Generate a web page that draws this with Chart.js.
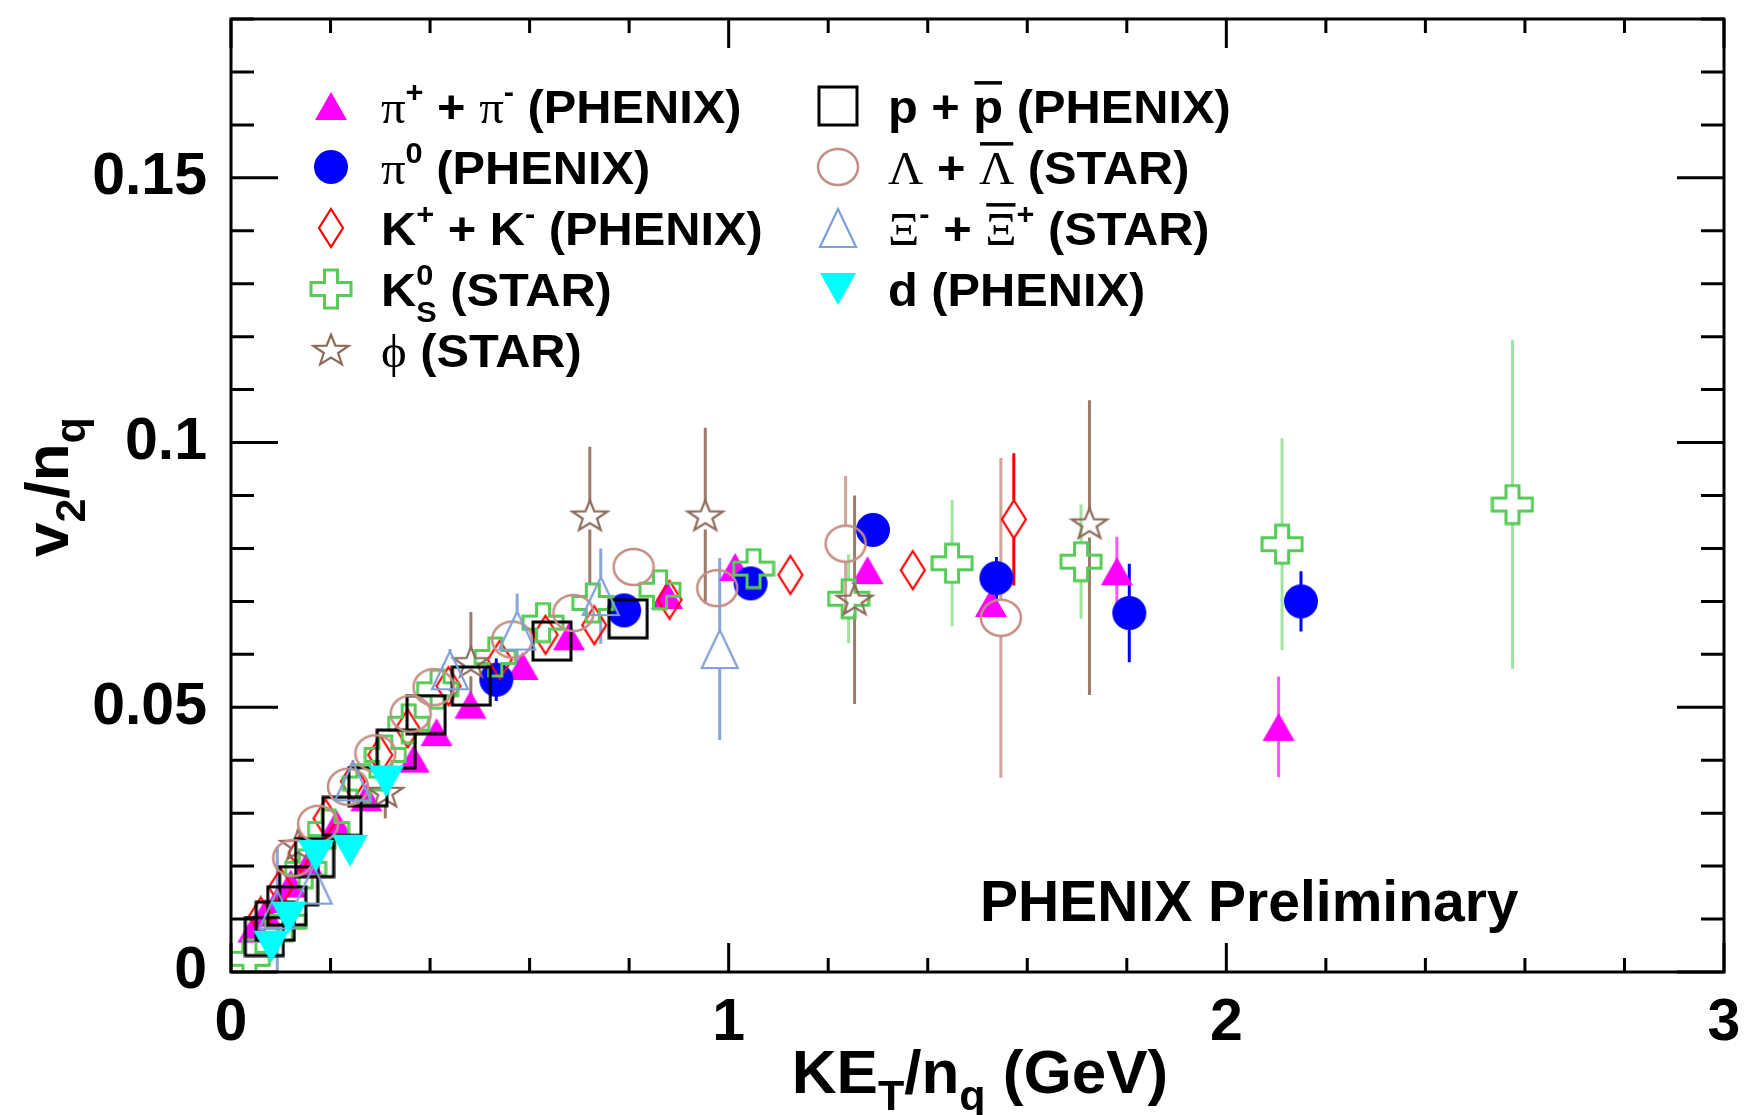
<!DOCTYPE html>
<html>
<head>
<meta charset="utf-8">
<title>v2/nq vs KET/nq</title>
<script src="https://cdn.jsdelivr.net/npm/chart.js@4.4.1/dist/chart.umd.min.js"></script>
<style>
  body { margin: 0; background: #fff; }
  .chart-box { width: 1746px; height: 1115px; }
</style>
</head>
<body>
<div class="chart-box"><canvas id="v2Chart"></canvas></div>
<script>
// --- Data: x = KE_T/n_q (GeV), y = v2/n_q ---
// pi+ + pi- (PHENIX)
const piPMx = [0.045, 0.069, 0.095, 0.12, 0.155, 0.212, 0.272, 0.367, 0.413, 0.481, 0.586, 0.679, 0.876, 1.013, 1.279, 1.527, 1.78, 2.105];
const piPMy = [0.0082, 0.0112, 0.0138, 0.0167, 0.0205, 0.028, 0.033, 0.0403, 0.0453, 0.0505, 0.0578, 0.0634, 0.0712, 0.0765, 0.0759, 0.0697, 0.0757, 0.0463];
const piPMe = [0.001, 0.001, 0.001, 0.001, 0.001, 0.001, 0.001, 0.0015, 0.0015, 0.0015, 0.002, 0.002, 0.002, 0.002, 0.002, 0.0025, 0.0065, 0.0095];
// pi0 (PHENIX)
const pi0x = [0.533, 0.79, 1.044, 1.29, 1.538, 1.805, 2.15];
const pi0y = [0.0552, 0.0683, 0.0734, 0.0835, 0.0744, 0.0678, 0.070];
const pi0e = [0.004, 0.003, 0.002, 0.002, 0.004, 0.0093, 0.0057];
// K+ + K- (PHENIX)
const kPMx = [0.06, 0.1, 0.14, 0.19, 0.245, 0.30, 0.355, 0.437, 0.54, 0.632, 0.73, 0.881, 1.124, 1.37, 1.573];
const kPMy = [0.0105, 0.016, 0.0225, 0.029, 0.036, 0.041, 0.046, 0.054, 0.059, 0.0637, 0.0655, 0.0703, 0.075, 0.0759, 0.0855];
const kPMe = [0.001, 0.001, 0.001, 0.001, 0.001, 0.001, 0.001, 0.0015, 0.0015, 0.0015, 0.002, 0.002, 0.002, 0.002, 0.0125];
// K0s (STAR)
const k0x = [0.037, 0.11, 0.15, 0.196, 0.266, 0.31, 0.357, 0.415, 0.531, 0.627, 0.727, 0.862, 1.05, 1.241, 1.449, 1.708, 2.112, 2.575];
const k0y = [0.0025, 0.0095, 0.0195, 0.027, 0.0356, 0.041, 0.0469, 0.0534, 0.0595, 0.066, 0.0697, 0.0722, 0.0762, 0.0705, 0.0772, 0.0775, 0.0808, 0.0883];
const k0e = [0.0005, 0.001, 0.001, 0.001, 0.001, 0.001, 0.0012, 0.0015, 0.0015, 0.002, 0.002, 0.0025, 0.003, 0.0084, 0.0119, 0.0108, 0.020, 0.031];
// phi (STAR) - last point has asymmetric errors [down, up]
const phix = [0.135, 0.31, 0.482, 0.721, 0.953, 1.253, 1.725];
const phiy = [0.024, 0.034, 0.0585, 0.0862, 0.0862, 0.0703, 0.0847];
const phie = [0.003, 0.005, 0.0095, 0.013, 0.0166, 0.0197, [0.0324, 0.0233]];
// p + pbar (PHENIX)
const protx = [0.067, 0.089, 0.112, 0.136, 0.168, 0.223, 0.275, 0.332, 0.392, 0.483, 0.645, 0.798];
const proty = [0.0067, 0.0096, 0.0125, 0.0163, 0.0216, 0.0294, 0.035, 0.0421, 0.0486, 0.054, 0.0625, 0.0667];
const prote = [0, 0, 0, 0, 0, 0, 0, 0, 0, 0, 0, 0];
// Lambda + Lambdabar (STAR)
const lamx = [0.125, 0.175, 0.235, 0.29, 0.361, 0.407, 0.565, 0.688, 0.809, 0.977, 1.235, 1.547];
const lamy = [0.0215, 0.028, 0.035, 0.0413, 0.0488, 0.0538, 0.0628, 0.0678, 0.0765, 0.0725, 0.0809, 0.0669];
const lame = [0.001, 0.001, 0.001, 0.001, 0.001, 0.001, 0.0015, 0.002, 0.002, 0.002, 0.0128, 0.0302];
// Xi- + Xibar+ (STAR)
const xix = [0.093, 0.166, 0.245, 0.44, 0.575, 0.743, 0.982];
const xiy = [0.0118, 0.0165, 0.036, 0.057, 0.0645, 0.071, 0.061];
const xie = [0.0118, 0.004, 0.004, 0.004, 0.007, 0.009, 0.0172];
// d (PHENIX)
const deutx = [0.081, 0.116, 0.171, 0.239, 0.312];
const deuty = [0.0048, 0.0103, 0.0219, 0.0229, 0.036];
const deute = [0, 0, 0, 0, 0];

// axis tick labels
const xTickLabels = [0, 1, 2, 3];
const yTickLabels = [0, 0.05, 0.1, 0.15];

// legend texts: [kind, text] pieces, kinds: n normal, g greek, sup, sub, supsub, bar (overline), gbar
const legendTexts = [
  [['g', 'π'], ['sup', '+'], ['n', ' + '], ['g', 'π'], ['sup', '-'], ['n', ' (PHENIX)']],
  [['g', 'π'], ['sup', '0'], ['n', ' (PHENIX)']],
  [['n', 'K'], ['sup', '+'], ['n', ' + K'], ['sup', '-'], ['n', ' (PHENIX)']],
  [['n', 'K'], ['supsub', '0', 'S'], ['n', ' (STAR)']],
  [['g', 'ϕ'], ['n', ' (STAR)']],
  [['n', 'p + '], ['bar', 'p'], ['n', ' (PHENIX)']],
  [['g', 'Λ'], ['n', ' + '], ['gbar', 'Λ'], ['n', ' (STAR)']],
  [['g', 'Ξ'], ['sup', '-'], ['n', ' + '], ['gbar', 'Ξ'], ['sup', '+'], ['n', ' (STAR)']],
  [['n', 'd (PHENIX)']]
];

const SANS = '"Liberation Sans", Arial, sans-serif';
const GREEK = '"Liberation Serif", "DejaVu Serif", serif';

// --- marker images (ROOT-like markers) ---
function mk(w, h, fn) {
  const c = document.createElement('canvas');
  c.width = w; c.height = h;
  fn(c.getContext('2d'));
  return c;
}
function poly(g, pts) {
  g.beginPath();
  g.moveTo(pts[0][0], pts[0][1]);
  pts.slice(1).forEach(p => g.lineTo(p[0], p[1]));
  g.closePath();
}
const mTriUp = mk(34, 30, g => { g.fillStyle = '#ff00ff'; poly(g, [[17, 1], [33, 29], [1, 29]]); g.fill(); });
const mDot = mk(36, 36, g => { g.fillStyle = '#0000ff'; g.beginPath(); g.arc(18, 18, 17, 0, Math.PI * 2); g.fill(); });
const mDiamond = mk(28, 42, g => {
  g.strokeStyle = '#ff0000'; g.lineWidth = 2.2;
  poly(g, [[14, 2], [26, 21], [14, 40], [2, 21]]); g.stroke();
});
const mCross = mk(44, 42, g => {
  const a = 2, b = 15.5, c = 28.5, d = 42, e = 2, f = 14.5, h = 27.5, k = 40;
  g.strokeStyle = '#55cc55'; g.lineWidth = 3;
  poly(g, [[b, e], [c, e], [c, f], [d, f], [d, h], [c, h], [c, k], [b, k], [b, h], [a, h], [a, f], [b, f]]);
  g.stroke();
});
const mStar = mk(42, 36, g => {
  const pts = [];
  for (let i = 0; i < 10; i++) {
    const r = i % 2 ? 7.5 : 18.5;
    const t = -Math.PI / 2 + i * Math.PI / 5;
    pts.push([21 + r * Math.cos(t), 19 + r * Math.sin(t) * 0.88]);
  }
  g.strokeStyle = '#8c6a5a'; g.lineWidth = 2.2;
  poly(g, pts); g.stroke();
});
const mSquare = mk(42, 42, g => { g.strokeStyle = '#000'; g.lineWidth = 3; g.strokeRect(2, 2, 38, 38); });
const mRing = mk(44, 40, g => {
  g.strokeStyle = '#c48e84'; g.lineWidth = 2.5;
  g.beginPath(); g.ellipse(22, 20, 20, 18, 0, 0, Math.PI * 2); g.stroke();
});
const mTriOpen = mk(40, 42, g => {
  g.strokeStyle = '#7f9fd8'; g.lineWidth = 2.2;
  poly(g, [[20, 2], [38, 40], [2, 40]]); g.stroke();
});
const mTriDown = mk(40, 36, g => { g.fillStyle = '#00ffff'; poly(g, [[2, 2], [38, 2], [20, 34]]); g.fill(); });

// --- series: data + style ---
const series = [
  { xs: piPMx, ys: piPMy, es: piPMe, marker: mTriUp, errColor: '#ff55ff', gap: 0 },
  { xs: pi0x, ys: pi0y, es: pi0e, marker: mDot, errColor: '#0000ff', gap: 0 },
  { xs: kPMx, ys: kPMy, es: kPMe, marker: mDiamond, errColor: '#ff0000', gap: 19 },
  { xs: k0x, ys: k0y, es: k0e, marker: mCross, errColor: '#9fe39f', gap: 19 },
  { xs: phix, ys: phiy, es: phie, marker: mStar, errColor: '#9c7b6b', gap: 14 },
  { xs: protx, ys: proty, es: prote, marker: mSquare, errColor: '#000', gap: 20 },
  { xs: lamx, ys: lamy, es: lame, marker: mRing, errColor: '#d2a59c', gap: 18 },
  { xs: xix, ys: xiy, es: xie, marker: mTriOpen, errColor: '#86a6dc', gap: 19 },
  { xs: deutx, ys: deuty, es: deute, marker: mTriDown, errColor: '#00ffff', gap: 0 }
];

// --- error bars (behind markers, with a gap for open markers) ---
const errorBars = {
  id: 'errorBars',
  beforeDatasetsDraw(chart) {
    const { ctx, chartArea: a, scales: { x, y } } = chart;
    ctx.save();
    ctx.beginPath(); ctx.rect(a.left, a.top, a.width, a.height); ctx.clip();
    ctx.lineWidth = 3;
    series.forEach(s => {
      ctx.strokeStyle = s.errColor;
      s.xs.forEach((xv, i) => {
        const e = s.es[i];
        if (!e) return;
        const lo = Array.isArray(e) ? e[0] : e;
        const hi = Array.isArray(e) ? e[1] : e;
        const px = x.getPixelForValue(xv);
        const py = y.getPixelForValue(s.ys[i]);
        const top = y.getPixelForValue(s.ys[i] + hi);
        const bot = y.getPixelForValue(s.ys[i] - lo);
        ctx.beginPath();
        if (top < py - s.gap) { ctx.moveTo(px, top); ctx.lineTo(px, py - s.gap); }
        if (bot > py + s.gap) { ctx.moveTo(px, py + s.gap); ctx.lineTo(px, bot); }
        ctx.stroke();
      });
    });
    ctx.restore();
  }
};

// rich text with super/subscripts and overlines
function richText(ctx, segs, x, y, size, o, dry) {
  let cx = x;
  const small = `bold ${Math.round(size * o.sub)}px ${SANS}`;
  segs.forEach(([kind, t, t2]) => {
    if (kind === 'supsub') {
      ctx.font = small;
      const w = Math.max(ctx.measureText(t).width, ctx.measureText(t2).width);
      if (!dry) { ctx.fillText(t, cx, y - size * o.rise); ctx.fillText(t2, cx, y + size * o.drop); }
      cx += w;
      return;
    }
    let dy = 0;
    if (kind === 'sup') { ctx.font = small; dy = -size * o.rise; }
    else if (kind === 'sub') { ctx.font = small; dy = size * o.drop; }
    else if (kind === 'g' || kind === 'gbar') ctx.font = `${size}px ${GREEK}`;
    else ctx.font = `bold ${size}px ${SANS}`;
    const w = ctx.measureText(t).width;
    if (!dry) {
      ctx.fillText(t, cx, y + dy);
      if (kind === 'bar' || kind === 'gbar') ctx.fillRect(cx + 1, y - size * 0.9, w - 2, 3.5);
    }
    cx += w;
  });
  return cx - x;
}

// --- frame, inside ticks, legend, titles ---
const decorations = {
  id: 'decorations',
  afterDatasetsDraw(chart) {
    const { ctx, chartArea: a, scales: { x, y } } = chart;
    ctx.save();
    ctx.strokeStyle = '#000';
    ctx.lineWidth = 3;
    ctx.strokeRect(a.left, a.top, a.width, a.height);
    ctx.beginPath();
    for (let i = 0; i <= 15; i++) {           // x ticks every 0.2
      const px = x.getPixelForValue(i * 0.2);
      const len = i % 5 === 0 ? 29 : 14;
      ctx.moveTo(px, a.bottom); ctx.lineTo(px, a.bottom - len);
      ctx.moveTo(px, a.top); ctx.lineTo(px, a.top + len);
    }
    for (let i = 0; i <= 18; i++) {           // y ticks every 0.01
      const py = y.getPixelForValue(i * 0.01);
      const len = i % 5 === 0 ? 47 : 23;
      ctx.moveTo(a.left, py); ctx.lineTo(a.left + len, py);
      ctx.moveTo(a.right, py); ctx.lineTo(a.right - len, py);
    }
    ctx.stroke();
    ctx.restore();
  },
  afterDraw(chart) {
    const { ctx } = chart;
    ctx.save();
    ctx.fillStyle = '#000';
    ctx.textBaseline = 'alphabetic';

    // legend, two columns (text slightly widened like the ROOT font)
    const rows = [106, 167, 228, 289, 350];
    const lo = { sub: 0.64, rise: 0.45, drop: 0.36 };
    series.forEach((s, i) => {
      const col = i < 5 ? 0 : 1;
      const row = i < 5 ? i : i - 5;
      const mx = col === 0 ? 331 : 838;
      const tx = col === 0 ? 381 : 888;
      const cy = rows[row];
      ctx.drawImage(s.marker, mx - s.marker.width / 2, cy - s.marker.height / 2);
      ctx.save();
      ctx.translate(tx, cy + 16.5);
      ctx.scale(1.06, 1);
      richText(ctx, legendTexts[i], 0, 0, 46, lo);
      ctx.restore();
    });

    // PHENIX Preliminary
    ctx.font = `bold 57px ${SANS}`;
    ctx.fillText('PHENIX Preliminary', 980, 921);

    // axis titles
    const to = { sub: 0.69, rise: 0.45, drop: 0.28 };
    const xt = [['n', 'KE'], ['sub', 'T'], ['n', '/n'], ['sub', 'q'], ['n', ' (GeV)']];
    const xw = richText(ctx, xt, 0, 0, 62, to, true);
    richText(ctx, xt, 980 - xw / 2, 1093, 62, to);

    const yt = [['n', 'v'], ['sub', '2'], ['n', '/n'], ['sub', 'q']];
    const yw = richText(ctx, yt, 0, 0, 62, to, true);
    ctx.translate(68, 487);
    ctx.rotate(-Math.PI / 2);
    richText(ctx, yt, -yw / 2, 0, 62, to);
    ctx.restore();
  }
};

const datasets = series.map((s, i) => ({
  label: 'series' + i,
  data: s.xs.map((xv, j) => ({ x: xv, y: s.ys[j] })),
  pointStyle: s.marker,
  pointRadius: 18,
  pointHoverRadius: 18,
  showLine: false,
  order: series.length - i
}));

const tickFont = { family: SANS, size: 59, weight: 'bold' };

new Chart(document.getElementById('v2Chart'), {
  type: 'scatter',
  data: { datasets },
  options: {
    animation: false,
    responsive: true,
    maintainAspectRatio: false,
    events: [],
    layout: { padding: { top: 11, right: 22, left: 0, bottom: 0 } },
    plugins: { legend: { display: false }, tooltip: { enabled: false } },
    scales: {
      x: {
        type: 'linear', min: 0, max: 3,
        grid: { display: false }, border: { display: false },
        ticks: { font: tickFont, color: '#000', padding: 8, maxRotation: 0, autoSkip: false,
                 callback: v => String(v) },
        afterBuildTicks: s => { s.ticks = xTickLabels.map(v => ({ value: v })); },
        afterFit: s => { s.height = 143; s.paddingLeft = 0; s.paddingRight = 0; }
      },
      y: {
        type: 'linear', min: 0, max: 0.18,
        grid: { display: false }, border: { display: false },
        ticks: { font: tickFont, color: '#000', padding: 16, autoSkip: false,
                 callback: v => String(v) },
        afterBuildTicks: s => { s.ticks = yTickLabels.map(v => ({ value: v })); },
        afterFit: s => { s.width = 231; s.paddingTop = 0; s.paddingBottom = 0; }
      }
    }
  },
  plugins: [errorBars, decorations]
});
</script>
</body>
</html>
